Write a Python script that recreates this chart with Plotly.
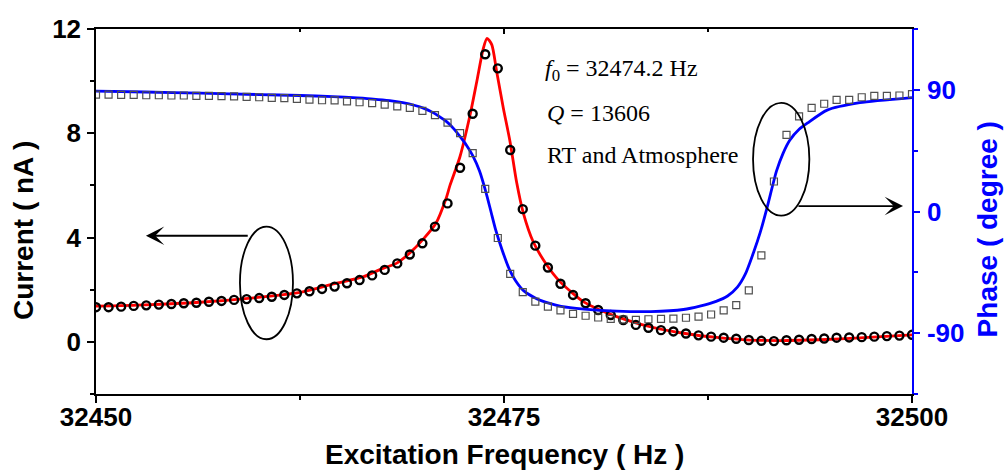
import plotly.graph_objects as go

# ---- measured data (66 frequency points) ----
freq = [32450.00, 32450.77, 32451.54, 32452.31, 32453.08, 32453.85, 32454.62, 32455.38,
        32456.15, 32456.92, 32457.69, 32458.46, 32459.23, 32460.00, 32460.77, 32461.54,
        32462.31, 32463.08, 32463.85, 32464.62, 32465.38, 32466.15, 32466.92, 32467.69,
        32468.46, 32469.23, 32470.00, 32470.77, 32471.54, 32472.31, 32473.08, 32473.85,
        32474.62, 32475.38, 32476.15, 32476.92, 32477.69, 32478.46, 32479.23, 32480.00,
        32480.77, 32481.54, 32482.31, 32483.08, 32483.85, 32484.62, 32485.38, 32486.15,
        32486.92, 32487.69, 32488.46, 32489.23, 32490.00, 32490.77, 32491.54, 32492.31,
        32493.08, 32493.85, 32494.62, 32495.38, 32496.15, 32496.92, 32497.69, 32498.46,
        32499.23, 32500.00]

current = [1.33, 1.33, 1.35, 1.38, 1.40, 1.43, 1.45, 1.48, 1.50, 1.54, 1.57, 1.61, 1.64,
           1.68, 1.73, 1.80, 1.86, 1.94, 2.03, 2.12, 2.25, 2.37, 2.55, 2.76, 3.01, 3.35,
           3.78, 4.42, 5.31, 6.68, 8.75, 11.03, 10.49, 7.36, 5.09, 3.69, 2.85, 2.23, 1.80,
           1.48, 1.22, 1.03, 0.84, 0.65, 0.54, 0.45, 0.40, 0.32, 0.25, 0.20, 0.16, 0.12,
           0.07, 0.04, 0.03, 0.06, 0.08, 0.11, 0.13, 0.16, 0.17, 0.18, 0.20, 0.22, 0.24, 0.27]

phase = [86.5, 86.5, 86.3, 86.3, 86.0, 86.0, 85.8, 85.8, 85.6, 85.6, 85.3, 85.1, 84.8,
         84.5, 84.1, 83.8, 83.3, 82.8, 82.3, 82.2, 81.5, 80.8, 80.2, 79.0, 77.8, 76.6,
         74.4, 71.3, 65.7, 58.0, 43.2, 16.8, -19.6, -46.1, -59.7, -66.6, -70.3, -73.2,
         -75.7, -77.1, -78.4, -79.4, -79.9, -80.1, -79.7, -79.4, -79.2, -78.6, -77.7,
         -76.2, -73.2, -69.2, -58.4, -32.5, 22.2, 56.7, 70.3, 76.7, 79.7, 82.6, 82.6,
         84.5, 85.6, 85.6, 85.8, 86.8]

# ---- fitted curves ----
fit_freq_current = [32450.00, 32453.00, 32456.37, 32459.50, 32462.50, 32464.54, 32466.40,
                    32467.50, 32468.43, 32469.30, 32470.01, 32470.83, 32471.45, 32471.69,
                    32472.30, 32472.92, 32473.33, 32473.73, 32473.96, 32474.25, 32474.55,
                    32474.96, 32475.37, 32475.78, 32476.18, 32476.79, 32477.62, 32478.43,
                    32479.86, 32480.88, 32481.90, 32483.95, 32485.99, 32488.03, 32490.07,
                    32491.91, 32494.36, 32496.81, 32500.00]
fit_current = [1.37, 1.42, 1.52, 1.68, 1.90, 2.22, 2.50, 2.80, 3.02, 3.45, 3.91, 4.55,
               5.50, 6.00, 7.10, 8.70, 9.98, 11.25, 11.64, 11.40, 10.37, 8.96, 7.68, 6.10,
               4.95, 3.84, 2.95, 2.31, 1.54, 1.22, 0.97, 0.58, 0.33, 0.17, 0.07, 0.05,
               0.08, 0.15, 0.27]

fit_freq_phase = [32450.0, 32453.0, 32456.4, 32460.0, 32462.5, 32464.5, 32466.0, 32467.0,
                  32468.0, 32468.8, 32469.5, 32470.1, 32470.6, 32471.0, 32471.5, 32471.9,
                  32472.3, 32472.7, 32473.1, 32473.5, 32473.9, 32474.2, 32474.5, 32474.9,
                  32475.3, 32475.7, 32476.2, 32477.0, 32477.8, 32478.5, 32479.9, 32481.9,
                  32484.0, 32486.0, 32487.0, 32488.0, 32488.7, 32489.3, 32489.8, 32490.3,
                  32490.7, 32491.1, 32491.7, 32492.1, 32492.5, 32493.1, 32493.6, 32494.8,
                  32496.8, 32500.0]
fit_phase = [89.0, 88.4, 87.5, 86.5, 85.8, 85.0, 84.0, 83.2, 82.0, 80.5, 78.6, 76.3,
             73.5, 70.5, 66.3, 61.5, 55.5, 49.0, 41.0, 30.0, 14.0, 0.0, -14.0, -29.0,
             -42.0, -51.0, -58.5, -64.5, -68.0, -70.2, -72.2, -73.7, -74.0, -72.5, -70.0,
             -66.5, -62.5, -56.0, -46.0, -30.0, -15.5, 2.0, 30.0, 43.0, 52.5, 61.0, 65.5,
             75.0, 80.5, 84.3]

x_ticks = [32450, 32475, 32500]
x_ticktext = ["32450", "32475", "32500"]
current_ticks = [0, 4, 8, 12]
phase_ticks = [-90, 0, 90]
phase_ticktext = ["-90", "0", "90"]

BLUE = "#0000ff"
RED = "#ff0000"
SANS = "Liberation Sans, Arial, sans-serif"
SERIF = "Liberation Serif, Times New Roman, serif"

fig = go.Figure()
fig.add_trace(go.Scatter(x=fit_freq_current, y=fit_current, mode="lines",
                         line=dict(color=RED, width=2.8, shape="spline", smoothing=0.7),
                         showlegend=False, hoverinfo="skip"))
fig.add_trace(go.Scatter(x=fit_freq_phase, y=fit_phase, mode="lines", yaxis="y2",
                         line=dict(color=BLUE, width=2.8, shape="spline", smoothing=0.6),
                         showlegend=False, hoverinfo="skip"))
fig.add_trace(go.Scatter(x=freq, y=current, mode="markers",
                         marker=dict(symbol="circle-open", size=8, color="black",
                                     line=dict(width=2.4, color="black")),
                         showlegend=False))
fig.add_trace(go.Scatter(x=freq, y=phase, mode="markers", yaxis="y2",
                         marker=dict(symbol="square-open", size=7, color="#505050",
                                     line=dict(width=1.2, color="#505050")),
                         showlegend=False))
# dummy trace for the top (mirror) axis
fig.add_trace(go.Scatter(x=[x_ticks[0], x_ticks[-1]], y=[None, None], xaxis="x2",
                         mode="lines", showlegend=False, hoverinfo="skip"))

tickfont = dict(family=SANS, size=26, color="black", weight="bold")

fig.update_layout(
    width=1005, height=472,
    margin=dict(l=96, r=93, t=29, b=78),
    paper_bgcolor="white", plot_bgcolor="white",
    xaxis=dict(range=[32450, 32500], tickvals=x_ticks, ticktext=x_ticktext,
               ticks="outside", ticklen=7, tickwidth=1.5, tickcolor="black",
               minor=dict(tickvals=[32462.5, 32487.5], ticklen=4, tickwidth=1.5,
                          tickcolor="black", ticks="outside"),
               showline=True, linecolor="black", linewidth=1.5,
               showgrid=False, zeroline=False, tickfont=tickfont, ticklabelstandoff=-8),
    xaxis2=dict(range=[32450, 32500], overlaying="x", side="top", anchor="y",
                tickvals=x_ticks, ticks="inside", ticklen=5, tickwidth=1.5,
                tickcolor="black",
                minor=dict(tickvals=[32462.5, 32487.5], ticklen=3, tickwidth=1.5,
                           tickcolor="black", ticks="inside"),
                showticklabels=False, showline=True, linecolor="black", linewidth=1.5,
                showgrid=False, zeroline=False),
    yaxis=dict(range=[-2, 12], tickvals=current_ticks, ticks="outside", ticklen=7,
               tickwidth=1.5, tickcolor="black",
               minor=dict(tickvals=[-2, 2, 6, 10], ticklen=4, tickwidth=1.5,
                          tickcolor="black", ticks="outside"),
               showline=True, linecolor="black", linewidth=1.5, showgrid=False,
               zeroline=False, tickfont=tickfont, ticklabelstandoff=1),
    yaxis2=dict(range=[-135, 135], overlaying="y", side="right", anchor="x",
                tickvals=phase_ticks, ticktext=phase_ticktext, ticks="outside",
                ticklen=6, tickwidth=1.5, tickcolor=BLUE,
                minor=dict(tickvals=[-135, -45, 45, 135], ticklen=4, tickwidth=1.5,
                           tickcolor=BLUE, ticks="outside"),
                showline=True, linecolor=BLUE, linewidth=1.5, showgrid=False,
                zeroline=False, ticklabelstandoff=2,
                tickfont=dict(family=SANS, size=26, color=BLUE, weight="bold")),
)

# axis titles
fig.add_annotation(text="Current ( nA )", xref="paper", yref="paper",
                   x=-0.0882, y=0.4466, textangle=-90, showarrow=False,
                   xanchor="center", yanchor="middle",
                   font=dict(family=SANS, size=28, color="black", weight="bold"))
fig.add_annotation(text="Excitation Frequency ( Hz )", xref="paper", yref="paper",
                   x=0.5, y=-0.167, showarrow=False, xanchor="center", yanchor="middle",
                   font=dict(family=SANS, size=28, color="black", weight="bold"))
fig.add_annotation(text="Phase ( degree )", xref="paper", yref="paper",
                   x=1.093, y=0.4507, textangle=-90, showarrow=False,
                   xanchor="center", yanchor="middle",
                   font=dict(family=SANS, size=28, color=BLUE, weight="bold"))

# text block
serif = dict(family=SERIF, size=24, color="black")
fig.add_annotation(text="<i>f</i><sub>0</sub> = 32474.2 Hz", xref="paper", yref="paper",
                   x=(543 - 96) / 816, y=(394 - 70) / 365, showarrow=False,
                   xanchor="left", yanchor="middle", font=serif)
fig.add_annotation(text="<i>Q</i> = 13606", xref="paper", yref="paper",
                   x=(545 - 96) / 816, y=(394 - 113) / 365, showarrow=False,
                   xanchor="left", yanchor="middle", font=serif)
fig.add_annotation(text="RT and Atmosphere", xref="paper", yref="paper",
                   x=(545 - 96) / 816, y=(394 - 155) / 365, showarrow=False,
                   xanchor="left", yanchor="middle", font=serif)

# ellipses
fig.add_shape(type="circle", xref="x", yref="y", x0=32458.82, x1=32462.07,
              y0=0.10, y1=4.42, line=dict(color="black", width=1.8))
fig.add_shape(type="circle", xref="x", yref="y", x0=32490.26, x1=32493.71,
              y0=4.84, y1=9.17, line=dict(color="black", width=1.8))

# arrows
fig.add_annotation(x=32453.06, y=4.07, ax=32459.39, ay=4.07, xref="x", yref="y",
                   axref="x", ayref="y", text="", showarrow=True, arrowhead=3,
                   arrowsize=1.7, arrowwidth=1.8, arrowcolor="black",
                   standoff=0, startstandoff=0)
fig.add_annotation(x=32499.45, y=5.21, ax=32492.95, ay=5.21, xref="x", yref="y",
                   axref="x", ayref="y", text="", showarrow=True, arrowhead=3,
                   arrowsize=1.7, arrowwidth=1.8, arrowcolor="black",
                   standoff=0, startstandoff=0)

fig.write_html("out.html")
